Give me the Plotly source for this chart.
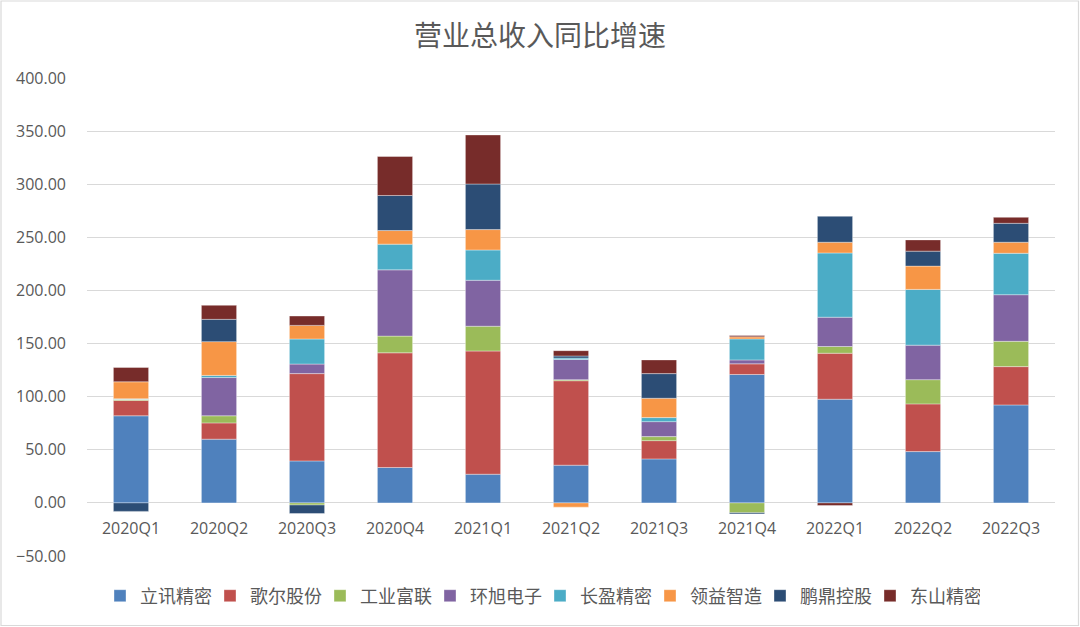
import plotly.graph_objects as go

quarters = ["2020Q1", "2020Q2", "2020Q3", "2020Q4", "2021Q1", "2021Q2",
            "2021Q3", "2021Q4", "2022Q1", "2022Q2", "2022Q3"]

luxshare = [82.0, 60.0, 39.5, 33.3, 27.0, 35.5, 41.4, 120.9, 97.6, 48.3, 92.2]
goertek = [14.5, 15.3, 82.2, 108.0, 116.0, 79.5, 17.2, 10.0, 43.3, 44.9, 36.1]
fii = [1.0, 6.7, -2.0, 15.7, 23.3, 1.0, 3.8, -9.4, 6.3, 22.8, 23.8]
usi = [0.0, 36.0, 9.0, 62.4, 43.3, 19.0, 14.1, 3.7, 27.6, 32.5, 43.9]
everwin = [0.5, 2.0, 23.6, 24.2, 28.5, 1.3, 3.8, 19.8, 60.5, 52.5, 39.0]
lingyi = [16.0, 31.8, 12.8, 12.8, 19.2, -4.0, 18.2, 1.9, 10.1, 21.9, 10.4]
avary = [-8.0, 21.0, -8.0, 33.0, 42.9, 2.0, 23.2, -1.0, 24.4, 14.1, 17.8]
dsbj = [13.5, 13.2, 8.8, 36.7, 46.2, 5.0, 12.9, 1.3, -2.5, 10.6, 5.6]

series_names = ["立讯精密", "歌尔股份", "工业富联", "环旭电子", "长盈精密", "领益智造", "鹏鼎控股", "东山精密"]
series_values = [luxshare, goertek, fii, usi, everwin, lingyi, avary, dsbj]
colors = ["#4F81BD", "#C0504D", "#9BBB59", "#8064A2", "#4BACC6", "#F79646", "#2C4D75", "#772C2A"]

y_ticks = [-50, 0, 50, 100, 150, 200, 250, 300, 350, 400]

fig = go.Figure()
for name, vals, col in zip(series_names, series_values, colors):
    fig.add_trace(go.Bar(
        x=quarters, y=vals, name=name,
        marker=dict(color=col, line=dict(width=0.6, color="rgba(255,255,255,0.6)")),
    ))

W, H = 1080, 627
ml, mr, mt, mb = 87, 25, 78, 71
pw = W - ml - mr
ph = H - mt - mb

gray = "#595959"
fig.update_layout(
    width=W, height=H,
    margin=dict(l=ml, r=mr, t=mt, b=mb, autoexpand=False),
    barmode="relative",
    bargap=0.6,
    plot_bgcolor="white",
    paper_bgcolor="white",
    font=dict(family="Open Sans, Noto Sans CJK SC", color=gray),
    title=dict(text="营业总收入同比增速", x=0.5, xanchor="center", y=1 - 36 / H, yanchor="middle",
               font=dict(family="Noto Sans CJK SC", size=28, color=gray)),
    yaxis=dict(range=[-50, 400], tickvals=y_ticks, tickformat=".2f",
               showgrid=True, gridcolor="#D9D9D9", gridwidth=1.3,
               zeroline=False, showline=False, ticks="",
               tickfont=dict(size=16, color=gray, family="Open Sans"), ticklabelstandoff=20),
    xaxis=dict(anchor="free", position=(0 - (-50)) / (400 - (-50)),
               showline=False, ticks="", showgrid=False, zeroline=False,
               tickfont=dict(size=16, color=gray, family="Open Sans"), ticklabelstandoff=14),
    legend=dict(orientation="h", x=0.5, xanchor="center", xref="container",
                y=(H - 596) / H, yanchor="middle", yref="container",
                font=dict(family="Noto Sans CJK SC", size=18, color=gray),
                entrywidth=65, itemwidth=30, traceorder="normal"),
    showlegend=True,
)

fig.add_shape(type="rect", xref="paper", yref="paper",
              x0=-(ml - 1) / pw, x1=1 + (mr - 1.5) / pw,
              y0=-(mb - 1.5) / ph, y1=1 + (mt - 1) / ph,
              line=dict(color="#D9D9D9", width=1.2), fillcolor="rgba(0,0,0,0)", layer="below")

fig.write_html("out.html")
